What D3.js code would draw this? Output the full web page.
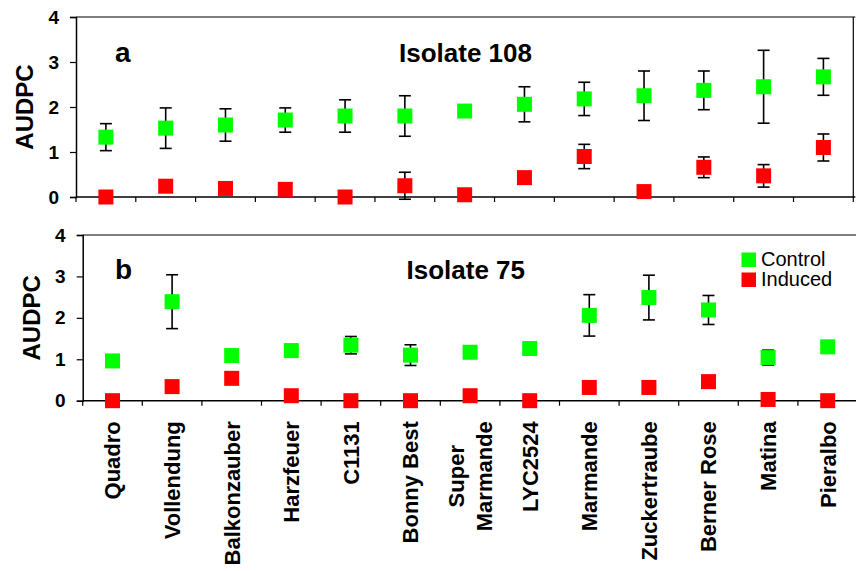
<!DOCTYPE html>
<html>
<head>
<meta charset="utf-8">
<script src="https://cdn.jsdelivr.net/npm/d3@7/dist/d3.min.js"></script>
<style>
  html, body { margin: 0; padding: 0; background: #fff; }
  svg { display: block; font-family: "Liberation Sans", Arial, sans-serif; }
</style>
</head>
<body>
<svg id="chart" width="856" height="571"></svg>
<script>
// ---------- data ----------
const categories = ["Quadro", "Vollendung", "Balkonzauber", "Harzfeuer", "C1131", "Bonny Best",
  "Super\nMarmande", "LYC2524", "Marmande", "Zuckertraube", "Berner Rose", "Matina", "Pieralbo"];
const yTicks = [0, 1, 2, 3, 4];

const iso108Control    = [1.33, 1.53, 1.60, 1.71, 1.80, 1.80, 1.91, 2.06, 2.18, 2.25, 2.37, 2.45, 2.67];
const iso108ControlErr = [0.30, 0.45, 0.36, 0.27, 0.36, 0.45, 0.00, 0.39, 0.37, 0.55, 0.43, 0.81, 0.41];
const iso108Induced    = [0.00, 0.24, 0.19, 0.17, 0.00, 0.25, 0.05, 0.43, 0.90, 0.12, 0.66, 0.47, 1.10];
const iso108InducedErr = [0.00, 0.00, 0.00, 0.00, 0.00, 0.30, 0.00, 0.00, 0.27, 0.00, 0.23, 0.25, 0.30];

const iso75Control     = [0.96, 2.39, 1.09, 1.21, 1.34, 1.10, 1.17, 1.26, 2.06, 2.49, 2.19, 1.04, 1.30];
const iso75ControlErr  = [0.00, 0.65, 0.00, 0.00, 0.21, 0.25, 0.00, 0.00, 0.50, 0.54, 0.35, 0.18, 0.00];
const iso75Induced     = [0.00, 0.34, 0.54, 0.12, 0.00, 0.00, 0.12, 0.00, 0.32, 0.32, 0.46, 0.03, 0.00];
const iso75InducedErr  = [0.00, 0.00, 0.00, 0.00, 0.00, 0.00, 0.00, 0.00, 0.00, 0.00, 0.00, 0.00, 0.00];

const seriesNames = ["Control", "Induced"];
const seriesColors = ["#00FF00", "#FF0000"];

// ---------- layout ----------
const svg = d3.select("#chart");
const MARK = 15;

const panels = [
  { left: 76, right: 853.3, top: 17, bottom: 197, letter: "a", title: "Isolate 108",
    letterX: 115, titleX: 399, textY: 62, ylabX: 24,
    control: iso108Control, controlErr: iso108ControlErr,
    induced: iso108Induced, inducedErr: iso108InducedErr, xlabels: false, rightBorder: true },
  { left: 82.7, right: 857.5, top: 235, bottom: 400.7, letter: "b", title: "Isolate 75",
    letterX: 115, titleX: 406.5, textY: 279, ylabX: 31.5,
    control: iso75Control, controlErr: iso75ControlErr,
    induced: iso75Induced, inducedErr: iso75InducedErr, xlabels: true, rightBorder: false }
];

panels.forEach(p => {
  const g = svg.append("g");
  const x = d3.scaleBand().domain(categories).range([p.left, p.right]).padding(0);
  const y = d3.scaleLinear().domain([0, 4]).range([p.bottom, p.top]);

  // frame: top & right lines
  g.append("line").attr("x1", p.left).attr("x2", p.right + 2).attr("y1", p.top).attr("y2", p.top)
    .attr("stroke", "#000").attr("stroke-width", 1.2);
  if (p.rightBorder) {
    g.append("line").attr("x1", p.right).attr("x2", p.right).attr("y1", p.top).attr("y2", p.bottom)
      .attr("stroke", "#000").attr("stroke-width", 1.2);
  }

  // y axis
  const yAxis = d3.axisLeft(y).tickValues(yTicks).tickFormat(d3.format("d")).tickSize(6).tickPadding(11);
  const ya = g.append("g").attr("transform", `translate(${p.left},0)`).call(yAxis);
  ya.select(".domain").attr("stroke", "#000").attr("stroke-width", 1.5);
  ya.selectAll(".tick line").attr("stroke", "#000").attr("stroke-width", 1.2);
  ya.selectAll(".tick text").attr("font-size", 19).attr("font-weight", "bold")
    .attr("fill", "#000").attr("font-family", "'Liberation Sans', Arial, sans-serif");

  // x axis: ticks at category boundaries
  g.append("line").attr("x1", p.left).attr("x2", p.right + 2).attr("y1", p.bottom).attr("y2", p.bottom)
    .attr("stroke", "#000").attr("stroke-width", 1.5);
  const bounds = categories.map(c => x(c)).concat([x(categories[categories.length - 1]) + x.bandwidth()]);
  g.selectAll(".xtick").data(bounds).join("line")
    .attr("x1", d => d).attr("x2", d => d)
    .attr("y1", p.bottom).attr("y2", p.bottom + 5)
    .attr("stroke", "#000").attr("stroke-width", 1.2);

  // y label
  g.append("text")
    .attr("transform", `translate(${p.ylabX},${(p.top + p.bottom) / 2}) rotate(-90)`)
    .attr("text-anchor", "middle").attr("dy", "0.36em")
    .attr("font-size", 24).attr("font-weight", "bold").text("AUDPC");

  // panel letter and title
  g.append("text").attr("x", p.letterX).attr("y", p.textY)
    .attr("font-size", 28).attr("font-weight", "bold").text(p.letter);
  g.append("text").attr("x", p.titleX).attr("y", p.textY)
    .attr("font-size", 26).attr("font-weight", "bold").text(p.title);

  // series
  const sets = [
    { vals: p.control, errs: p.controlErr, color: seriesColors[0] },
    { vals: p.induced, errs: p.inducedErr, color: seriesColors[1] }
  ];
  sets.forEach(s => {
    const data = categories.map((c, i) => ({ c, v: s.vals[i], e: s.errs[i] }));
    const cx = d => x(d.c) + x.bandwidth() / 2;
    const eb = g.append("g").selectAll("g").data(data.filter(d => d.e > 0)).join("g");
    eb.append("line").attr("x1", cx).attr("x2", cx)
      .attr("y1", d => y(d.v - d.e)).attr("y2", d => y(d.v + d.e))
      .attr("stroke", "#000").attr("stroke-width", 1.6);
    eb.append("line").attr("x1", d => cx(d) - 6).attr("x2", d => cx(d) + 6)
      .attr("y1", d => y(d.v + d.e)).attr("y2", d => y(d.v + d.e))
      .attr("stroke", "#000").attr("stroke-width", 1.6);
    eb.append("line").attr("x1", d => cx(d) - 6).attr("x2", d => cx(d) + 6)
      .attr("y1", d => y(d.v - d.e)).attr("y2", d => y(d.v - d.e))
      .attr("stroke", "#000").attr("stroke-width", 1.6);
    g.append("g").selectAll("rect").data(data).join("rect")
      .attr("x", d => cx(d) - MARK / 2).attr("y", d => y(d.v) - MARK / 2)
      .attr("width", MARK).attr("height", MARK).attr("fill", s.color);
  });

  // category labels
  if (p.xlabels) {
    const topY = p.bottom + 20.5;
    categories.forEach(c => {
      const lines = c.split("\n");
      const cx = x(c) + x.bandwidth() / 2;
      if (lines.length === 1) {
        g.append("text")
          .attr("transform", `translate(${cx},${topY}) rotate(-90)`)
          .attr("text-anchor", "end").attr("dy", "0.36em")
          .attr("font-size", 22).attr("font-weight", "bold").text(c);
      } else {
        const lh = 28;
        const tmp = lines.map(l => g.append("text").attr("font-size", 22).attr("font-weight", "bold").text(l));
        const maxLen = d3.max(tmp, t => t.node().getComputedTextLength());
        tmp.forEach(t => t.remove());
        lines.forEach((l, i) => {
          const off = (i - (lines.length - 1) / 2) * lh;
          g.append("text")
            .attr("transform", `translate(${cx + off},${topY + maxLen / 2}) rotate(-90)`)
            .attr("text-anchor", "middle").attr("dy", "0.36em")
            .attr("font-size", 22).attr("font-weight", "bold").text(l);
        });
      }
    });
  }
});

// legend (in panel b)
const legend = svg.append("g");
seriesNames.forEach((n, i) => {
  legend.append("rect").attr("x", 741.5).attr("y", 252.5 + i * 20).attr("width", 14.5).attr("height", 14.5)
    .attr("fill", seriesColors[i]);
  legend.append("text").attr("x", 761).attr("y", 266 + i * 20)
    .attr("font-size", 20).attr("fill", "#000").text(n);
});
</script>
</body>
</html>
